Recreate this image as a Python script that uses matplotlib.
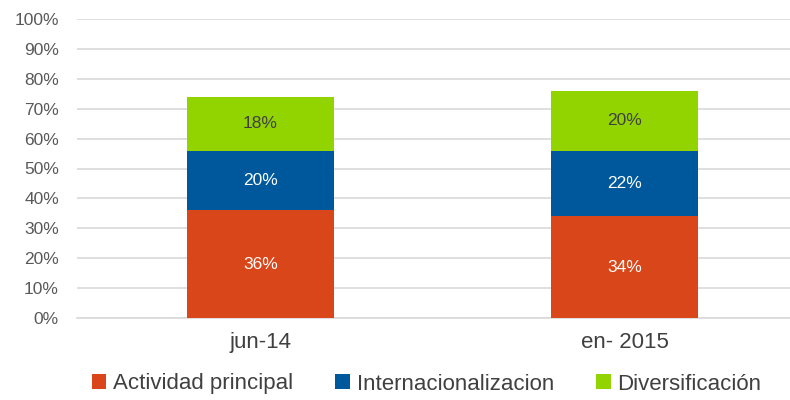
import numpy as np
import matplotlib.pyplot as plt
from matplotlib.patches import Patch

plt.rcParams['font.family'] = ['Liberation Sans', 'DejaVu Sans']

# Datos del gráfico
categorias = ["jun-14", "en- 2015"]
actividad_principal = [36, 34]
internacionalizacion = [20, 22]
diversificacion = [18, 20]

series = ["Actividad principal", "Internacionalizacion", "Diversificación"]
colores = ['#D9461A', '#00589C', '#92D400']
color_etiqueta = ['white', 'white', '#404040']

fig = plt.figure(figsize=(7.9, 4.0), dpi=100)
ax = fig.add_axes([77/790, 82/400, 713/790, 299/400])

x = np.arange(len(categorias))
ancho = 0.403
base = np.zeros(len(categorias))
for valores, color, tcolor in zip([actividad_principal, internacionalizacion, diversificacion],
                                  colores, color_etiqueta):
    valores = np.array(valores, dtype=float)
    ax.bar(x, valores, ancho, bottom=base, color=color, zorder=3)
    for xi, b, v in zip(x, base, valores):
        ax.text(xi, b + v / 2, f"{int(v)}%", ha='center', va='center',
                color=tcolor, fontsize=12.5, zorder=4)
    base += valores

ax.set_ylim(0, 100)
ax.set_xlim(-0.503, 1.453)
ax.set_yticks(np.arange(0, 101, 10))
ax.set_yticklabels([f"{v}%" for v in range(0, 101, 10)])
ax.yaxis.grid(True, color='#D9D9D9', linewidth=1.2, zorder=0)
ax.set_axisbelow(True)
ax.tick_params(axis='y', length=0, labelsize=12.5, labelcolor='#595959', pad=13)
ax.set_xticks(x)
ax.set_xticklabels(categorias)
ax.tick_params(axis='x', length=0, labelsize=16, labelcolor='#404040', pad=10)
for lado in ['top', 'right', 'left']:
    ax.spines[lado].set_visible(False)
ax.spines['bottom'].set_color('#D9D9D9')
ax.spines['bottom'].set_linewidth(1.2)

handles = [Patch(facecolor=c, label=s) for c, s in zip(colores, series)]
fig.legend(handles=handles, loc='center', bbox_to_anchor=(0.54, 0.04), ncol=3,
           frameon=False, fontsize=16, handlelength=0.65, handleheight=0.65,
           handletextpad=0.3, columnspacing=1.9, labelcolor='#404040')

fig.savefig('out.png', dpi=100)
